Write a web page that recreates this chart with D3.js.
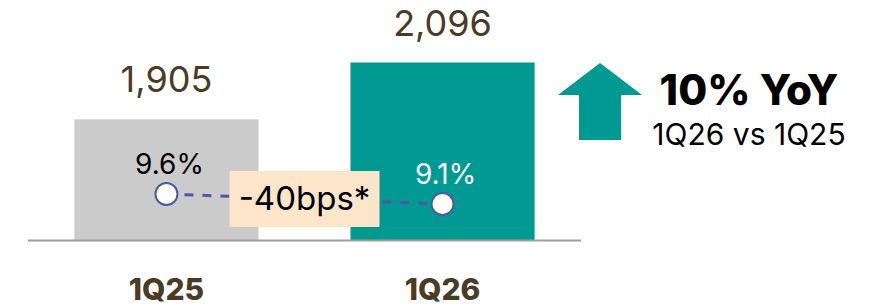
<!DOCTYPE html>
<html><head><meta charset="utf-8">
<script src="https://cdn.jsdelivr.net/npm/d3@7"></script>
<style>body{margin:0;background:#fff}svg{display:block}text{font-family:Inter,"Noto Sans",sans-serif}</style>
</head><body><svg id="c" width="876" height="306"></svg>
<script>
const categories = ["1Q25", "1Q26"];
const revenue = [1905, 2096];
const revenueLabels = ["1,905", "2,096"];
const margin = [9.6, 9.1];
const marginLabels = ["9.6%", "9.1%"];
const changeLabel = "-40bps*";
const yoyTitle = "10% YoY";
const yoySub = "1Q26 vs 1Q25";

const svg = d3.select("#c");
const x = d3.scaleBand().domain(categories).range([28, 581]).paddingInner(0.333).paddingOuter(0.168);
const y = d3.scaleLinear().domain([1500, 2096]).range([240, 62.5]);
const y2 = d3.scaleLinear().domain([8, 11]).range([226, 166]);
const barColors = ["#cbcbcb", "#009a93"];
const brown = "#4a3b25";

svg.selectAll("rect.bar").data(revenue).join("rect").attr("class","bar")
  .attr("x",(d,i)=>x(categories[i])).attr("width",x.bandwidth())
  .attr("y",d=>y(d)).attr("height",d=>y(1500)-y(d)).attr("fill",(d,i)=>barColors[i]);

svg.append("line").attr("x1",28).attr("x2",581).attr("y1",240.5).attr("y2",240.5)
  .attr("stroke","#a0a0a0").attr("stroke-width",2);

svg.selectAll("text.val").data(revenue).join("text").attr("class","val")
  .attr("x",(d,i)=>x(categories[i])+x.bandwidth()/2).attr("y",d=>y(d)-27)
  .attr("text-anchor","middle").attr("font-size",36).attr("fill",brown)
  .text((d,i)=>revenueLabels[i]);

svg.selectAll("text.cat").data(categories).join("text").attr("class","cat")
  .attr("x",d=>x(d)+x.bandwidth()/2).attr("y",300)
  .attr("text-anchor","middle").attr("font-size",30).attr("font-weight",800).attr("fill",brown)
  .text(d=>d);

const cx = (i)=>x(categories[i])+x.bandwidth()/2;
svg.append("line").attr("x1",cx(0)).attr("y1",y2(margin[0])).attr("x2",cx(1)).attr("y2",y2(margin[1]))
  .attr("stroke","#4f58a6").attr("stroke-width",3).attr("stroke-dasharray","9,9");

svg.selectAll("circle.pt").data(margin).join("circle").attr("class","pt")
  .attr("cx",(d,i)=>cx(i)).attr("cy",d=>y2(d)).attr("r",11)
  .attr("fill","#fff").attr("stroke","#4f58a6").attr("stroke-width",2);

svg.selectAll("text.pct").data(margin).join("text").attr("class","pct")
  .attr("x",(d,i)=>cx(i)+3).attr("y",d=>y2(d)-20)
  .attr("text-anchor","middle").attr("font-size",28).attr("fill",(d,i)=>i===0?"#000":"#fff")
  .text((d,i)=>marginLabels[i]);

const midX = (cx(0)+cx(1))/2;
svg.append("rect").attr("x",midX-75).attr("y",171).attr("width",150).attr("height",56).attr("fill","#fde5ca");
svg.append("text").attr("x",midX).attr("y",210).attr("text-anchor","middle").attr("font-size",33).attr("fill","#000").text(changeLabel);

svg.append("polygon").attr("points","600,63 642,95 621,95 621,140 579,140 579,95 558,95").attr("fill","#009a93");
svg.append("text").attr("x",749).attr("y",105).attr("text-anchor","middle").attr("font-size",42).attr("font-weight",800).attr("fill","#000").text(yoyTitle);
svg.append("text").attr("x",749).attr("y",145).attr("text-anchor","middle").attr("font-size",30).attr("fill","#000").text(yoySub);
</script></body></html>
